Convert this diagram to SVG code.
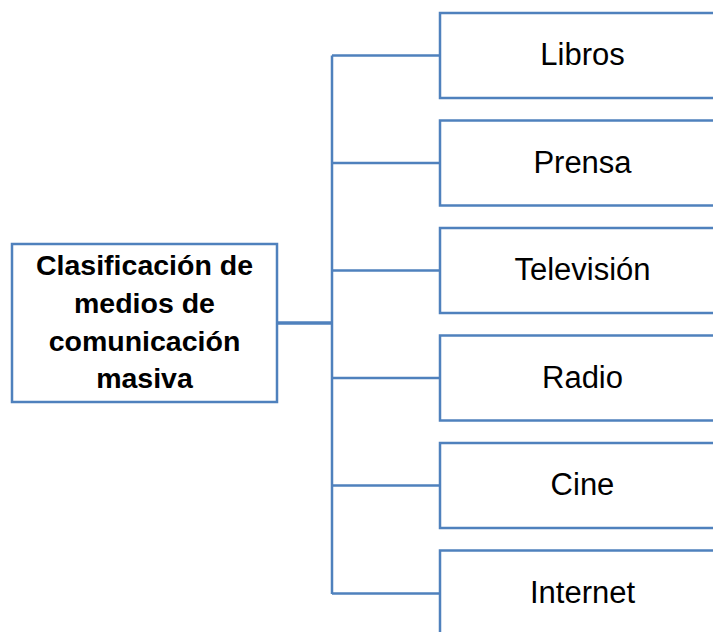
<svg xmlns="http://www.w3.org/2000/svg" width="713" height="632" viewBox="0 0 713 632">
<style>
.box{fill:#fff;stroke:#4F81BD;stroke-width:2.5}
.lbl{font-family:"Liberation Sans",Arial,sans-serif;font-size:31px;fill:#000;text-anchor:middle}
.main{font-family:"Liberation Sans",Arial,sans-serif;font-size:28.5px;font-weight:bold;fill:#000;text-anchor:middle}
.con{fill:none;stroke:#4F81BD;stroke-width:2.5}
</style>
<rect width="713" height="632" fill="#fff"/>
<g id="connectors">
<path class="con" d="M332 55.5 V594 M332 55.5 H440 M332 163 H440 M332 270.5 H440 M332 378 H440 M332 485.5 H440 M332 593.5 H440"/>
<path class="con" style="stroke-width:3.5" d="M277 323 H332"/>
</g>
<g id="main">
<rect class="box" x="12" y="244" width="265" height="158"/>
<text class="main" x="144.5" y="275">Clasificación de</text>
<text class="main" x="144.5" y="313">medios de</text>
<text class="main" x="144.5" y="351">comunicación</text>
<text class="main" x="144.5" y="388">masiva</text>
</g>
<g id="libros">
<rect class="box" x="440" y="13" width="290" height="85"/>
<text class="lbl" x="582.5" y="65">Libros</text>
</g>
<g id="prensa">
<rect class="box" x="440" y="120.5" width="290" height="85"/>
<text class="lbl" x="582.5" y="172.5">Prensa</text>
</g>
<g id="television">
<rect class="box" x="440" y="228" width="290" height="85"/>
<text class="lbl" x="582.5" y="280">Televisión</text>
</g>
<g id="radio">
<rect class="box" x="440" y="335.5" width="290" height="85"/>
<text class="lbl" x="582.5" y="387.5">Radio</text>
</g>
<g id="cine">
<rect class="box" x="440" y="443" width="290" height="85"/>
<text class="lbl" x="582.5" y="495">Cine</text>
</g>
<g id="internet">
<rect class="box" x="440" y="550.5" width="290" height="85"/>
<text class="lbl" x="582.5" y="603">Internet</text>
</g>
</svg>
